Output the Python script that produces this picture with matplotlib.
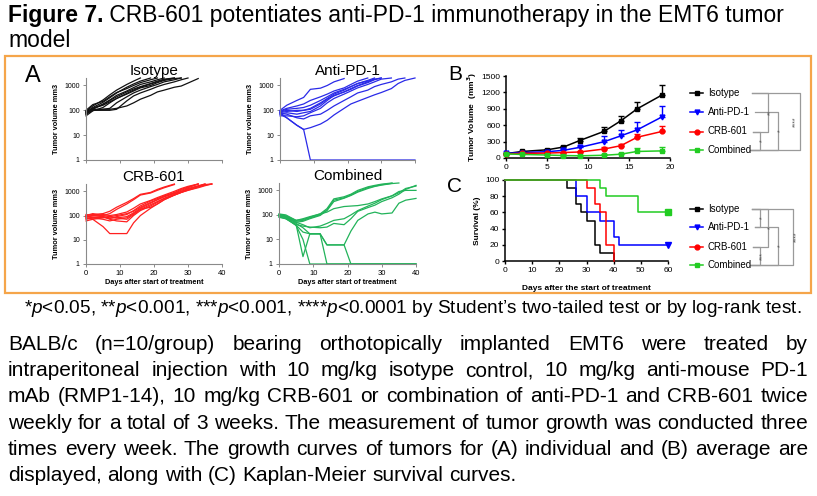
import matplotlib
matplotlib.use("Agg")
import matplotlib.pyplot as plt
from matplotlib.patches import Rectangle
from matplotlib.ticker import NullLocator

plt.rcParams['font.family'] = ['Liberation Sans', 'DejaVu Sans']
plt.rcParams['mathtext.fontset'] = 'custom'
plt.rcParams['mathtext.rm'] = 'Liberation Sans'
plt.rcParams['mathtext.it'] = 'Liberation Sans:italic'

# ---------------- data ----------------
# panel A: individual tumour volumes (mm3) on a common day grid, lists stop when the mouse leaves
a_days = [0, 2, 5, 7, 9, 12, 14, 16, 19, 21, 23, 26, 28, 30, 33, 35, 37, 40]

iso_curves = [
    [90, 150, 260, 420, 650, 1100, 1500, 2000],
    [80, 130, 210, 320, 500, 850, 1150, 1500, 2000],
    [100, 170, 230, 350, 520, 750, 1000, 1300, 1700, 2000],
    [70, 110, 180, 260, 400, 600, 820, 1100, 1400, 1700, 2000],
    [60, 95, 130, 200, 300, 480, 650, 850, 1150, 1400, 1700, 2000],
    [90, 110, 110, 120, 200, 350, 500, 650, 900, 1100, 1400, 1700, 2000],
    [80, 100, 100, 100, 110, 240, 380, 500, 700, 900, 1100, 1400, 1700, 2000],
    [70, 100, 110, 110, 120, 150, 200, 280, 400, 550, 650, 850, 950, 1250, 1900],
    [85, 120, 170, 250, 350, 550, 720, 900, 1200, 1500, 1800, 2000],
    [75, 120, 160, 220, 300, 450, 600, 800, 1000, 1300, 1600, 1900, 2000],
]
pd1_curves = [
    [80, 50, 25, 17, 1, 1, 1, 1, 1, 1, 1, 1, 1, 1, 1, 1, 1, 1],
    [70, 50, 25, 17, 20, 28, 40, 65, 120, 180, 230, 330, 420, 520, 750, 1200, 1600, 2000],
    [100, 160, 250, 330, 700, 780, 1000, 1400, 1900],
    [90, 110, 120, 130, 160, 250, 350, 500, 700, 900, 1200, 1500, 1800],
    [80, 90, 100, 100, 120, 200, 300, 450, 650, 900, 1200, 1600, 2000],
    [70, 80, 70, 80, 90, 150, 250, 400, 550, 750, 1000, 1400, 1800, 2000],
    [60, 60, 55, 60, 80, 120, 200, 300, 450, 600, 800, 1100, 1400, 1800, 2000],
    [85, 100, 90, 100, 110, 180, 280, 380, 550, 700, 950, 1300, 1700, 2000],
    [75, 70, 50, 45, 60, 70, 100, 150, 250, 350, 500, 650, 900, 1100, 1400, 1800, 2000],
    [95, 120, 150, 180, 250, 350, 450, 600, 800, 1100, 1500, 2000],
]
crb_curves = [
    [100, 110, 120, 150, 220, 350, 500, 750, 900, 1200, 1500, 2000],
    [90, 95, 100, 120, 180, 300, 450, 700, 850, 1100, 1400, 1900],
    [80, 70, 35, 18, 18, 18, 50, 100, 200, 300, 450, 700, 900, 1200, 1600, 2000],
    [70, 80, 90, 80, 80, 90, 130, 200, 320, 450, 600, 800, 1000, 1300, 1700, 2000],
    [110, 100, 90, 70, 60, 55, 100, 160, 250, 350, 500, 700, 900, 1100, 1500, 1800, 2000],
    [60, 70, 80, 90, 100, 120, 150, 220, 350, 450, 600, 850, 1100, 1400, 2000],
    [100, 120, 100, 90, 80, 70, 110, 180, 280, 380, 520, 750, 950, 1200, 1600, 1900, 2000],
    [75, 80, 85, 75, 90, 110, 160, 250, 400, 500, 650, 900, 1200, 1500, 2000],
    [90, 80, 70, 60, 70, 80, 120, 180, 220, 300, 450, 700, 900, 1100, 1400, 1700, 2000],
    [85, 100, 110, 100, 110, 140, 200, 300, 420, 550, 700, 1000, 1300, 1600, 2000],
]
comb_curves = [
    [100, 90, 60, 65, 80, 110, 180, 450, 550, 700, 1000, 1400, 1600, 1800, 2000],
    [90, 85, 55, 60, 75, 100, 160, 400, 500, 650, 900, 1300, 1500, 1700, 1950],
    [95, 80, 50, 55, 70, 95, 150, 350, 480, 620, 850, 1200, 1450, 1650, 1900, 2000],
    [110, 100, 60, 70, 85, 110, 130, 180, 220, 230, 240, 280, 350, 450, 600, 900, 1000, 1000],
    [100, 80, 40, 35, 32, 30, 32, 45, 40, 70, 140, 200, 250, 350, 500, 700, 1100, 1600],
    [80, 70, 38, 20, 17, 17, 6, 6, 6, 22, 60, 110, 130, 110, 120, 300, 400, 470],
    [95, 75, 37, 10, 1, 1, 1, 1, 1, 1, 1, 1, 1, 1, 1, 1, 1, 1],
    [85, 70, 40, 2, 17, 17, 1, 1, 1, 1, 1, 1, 1, 1, 1, 1, 1, 1],
    [105, 90, 45, 30, 17, 17, 6, 6, 6, 1, 1, 1, 1, 1, 1, 1, 1, 1],
    [100, 85, 50, 40, 30, 35, 45, 60, 70, 100, 150, 230, 300, 420, 600, 800, 1200, 1500],
]
a_titles = ["Isotype", "Anti-PD-1", "CRB-601", "Combined"]

# panel B: mean tumour volume (mm3) with upper SEM
b_days = [0, 2, 5, 7, 9, 12, 14, 16, 19]
iso_mean = [80, 120, 150, 200, 320, 490, 680, 900, 1150]
iso_err = [10, 15, 20, 25, 40, 70, 80, 130, 180]
pd1_mean = [85, 100, 115, 140, 195, 300, 405, 515, 750]
pd1_err = [10, 12, 15, 20, 30, 95, 112, 142, 195]
crb_mean = [75, 85, 90, 100, 110, 165, 225, 380, 485]
crb_err = [8, 10, 10, 15, 20, 30, 40, 50, 95]
comb_mean = [75, 65, 55, 45, 40, 50, 70, 120, 130]
comb_err = [8, 8, 8, 8, 8, 15, 30, 60, 65]

# panel C: Kaplan-Meier steps (days, % survival)
iso_t = [0, 23, 26, 28, 30, 33, 35, 40]
iso_s = [100, 90, 70, 60, 50, 20, 10, 0]
pd1_t = [0, 26, 30, 35, 40, 42, 60]
pd1_s = [100, 80, 60, 50, 30, 20, 20]
crb_t = [0, 30, 33, 35, 37, 40]
crb_s = [100, 90, 70, 60, 20, 0]
comb_t = [0, 35, 37, 49, 60]
comb_s = [100, 90, 80, 60, 60]

groups = ["Isotype", "Anti-PD-1", "CRB-601", "Combined"]
b_sig = [(0, 2, "**"), (1, 3, "*"), (2, 3, "*"), (0, 3, "****")]
c_sig = [(0, 1, "*"), (0, 2, "*"), (1, 3, "*"), (0, 3, "****"), (2, 3, "***")]

title_bold = "Figure 7."
title_rest = " CRB-601 potentiates anti-PD-1 immunotherapy in the EMT6 tumor"
title_line2 = "model"
footnote = r"*$p$<0.05, **$p$<0.001, ***$p$<0.001, ****$p$<0.0001 by Student’s two-tailed test or by log-rank test."
para = [
    "BALB/c (n=10/group) bearing orthotopically implanted EMT6 were treated by",
    "intraperitoneal injection with 10 mg/kg isotype control, 10 mg/kg anti-mouse PD-1",
    "mAb (RMP1-14), 10 mg/kg CRB-601 or combination of anti-PD-1 and CRB-601 twice",
    "weekly for a total of 3 weeks. The measurement of tumor growth was conducted three",
    "times every week. The growth curves of tumors for (A) individual and (B) average are",
    "displayed, along with (C) Kaplan-Meier survival curves.",
]

# ---------------- layout ----------------
W, H = 817, 496
fig = plt.figure(figsize=(W / 100, H / 100), dpi=100)


def rect(l, t, r, b):
    return [l / W, 1 - b / H, (r - l) / W, (b - t) / H]


a_colors = ["#111111", "#2a2ae8", "#ff2020", "#22b35a"]
bc_colors = ["#000000", "#0000ff", "#ff0000", "#22cc22"]
bc_markers = ["s", "v", "o", "s"]

a_rects = [rect(86, 78, 222, 160), rect(280, 78, 415, 160),
           rect(86, 184, 222, 264), rect(279, 183, 416, 264)]
a_data = [iso_curves, pd1_curves, crb_curves, comb_curves]

for k in range(4):
    ax = fig.add_axes(a_rects[k])
    for vals in a_data[k]:
        ax.plot(a_days[:len(vals)], vals, color=a_colors[k], lw=0.9, clip_on=False)
    ax.set_yscale("log")
    ax.set_ylim(1, 2000)
    ax.set_xlim(0, 40)
    ax.set_yticks([1, 10, 100, 1000])
    ax.set_yticklabels(["1", "10", "100", "1000"])
    ax.yaxis.set_minor_locator(NullLocator())
    ax.set_xticks([0, 10, 20, 30, 40])
    for s in ["top", "right"]:
        ax.spines[s].set_visible(False)
    for s in ["left", "bottom"]:
        ax.spines[s].set_color("#8a8a8a")
        ax.spines[s].set_linewidth(0.8)
    ax.tick_params(colors="#8a8a8a", labelcolor="black", labelsize=5, length=2.5, width=0.7, pad=2)
    ax.set_ylabel("Tumor volume mm3", fontsize=5.3, fontweight="bold", labelpad=3)
    if k >= 2:
        ax.set_xlabel("Days after start of treatment", fontsize=5.3, fontweight="bold", labelpad=1)
        ax.tick_params(axis="x", labelsize=5.5)
    else:
        ax.set_xticklabels([])
    ax.set_title(a_titles[k], fontsize=11, pad=2)

# panel B
axb = fig.add_axes(rect(506, 76, 670, 158))
b_means = [iso_mean, pd1_mean, crb_mean, comb_mean]
b_errs = [iso_err, pd1_err, crb_err, comb_err]
for k in range(4):
    axb.errorbar(b_days, b_means[k], yerr=[[0] * len(b_errs[k]), b_errs[k]],
                 color=bc_colors[k], marker=bc_markers[k], ms=3.5, lw=1.1,
                 capsize=2, elinewidth=1, capthick=1, clip_on=False, zorder=3 + k)
axb.set_xlim(0, 20)
axb.set_ylim(0, 1500)
axb.set_xticks([0, 5, 10, 15, 20])
axb.set_yticks([0, 300, 600, 900, 1200, 1500])
for s in ["top", "right"]:
    axb.spines[s].set_visible(False)
for s in ["left", "bottom"]:
    axb.spines[s].set_linewidth(1.1)
axb.tick_params(labelsize=6, length=2.5, width=1, pad=1.5)
axb.set_ylabel("Tumor Volume  (mm$^\\mathbf{3}$)", fontsize=6, fontweight="bold", labelpad=2)

# panel C
axc = fig.add_axes(rect(505, 180, 668, 261))
c_t = [iso_t, pd1_t, crb_t, comb_t]
c_s = [iso_s, pd1_s, crb_s, comb_s]
for k in range(4):
    axc.step(c_t[k], c_s[k], where="post", color=bc_colors[k], lw=1.1, clip_on=False, zorder=3 + k)
axc.plot(pd1_t[-1], pd1_s[-1], marker="v", color=bc_colors[1], ms=4.5, clip_on=False, zorder=9)
axc.plot(comb_t[-1], comb_s[-1], marker="s", color=bc_colors[3], ms=4.5, clip_on=False, zorder=9)
axc.set_xlim(0, 60)
axc.set_ylim(0, 100)
axc.set_xticks([0, 10, 20, 30, 40, 50, 60])
axc.set_yticks([0, 20, 40, 60, 80, 100])
for s in ["top", "right"]:
    axc.spines[s].set_visible(False)
for s in ["left", "bottom"]:
    axc.spines[s].set_linewidth(1.1)
axc.tick_params(labelsize=6, length=2.5, width=1, pad=1.5)
axc.set_ylabel("Survival (%)", fontsize=6, fontweight="bold", labelpad=3)
axc.set_xlabel("Days after the start of treatment", fontsize=6, fontweight="bold", labelpad=8)

# ---------------- overlay: box, letters, legends, brackets, text ----------------
ov = fig.add_axes([0, 0, 1, 1], zorder=-1)
ov.set_xlim(0, W)
ov.set_ylim(H, 0)
ov.axis("off")

ov.add_patch(Rectangle((5.5, 55.5), 806, 237, fill=False, edgecolor="#f5a54a", lw=1.6))
ov.text(33, 76, "A", fontsize=17, ha="center", va="center")
ov.text(455, 75, "B", fontsize=15, ha="center", va="center")
ov.text(455, 186, "C", fontsize=15, ha="center", va="center")


def legend_block(rows_y, x_starts, sig, vlines, lab_dx):
    for k in range(4):
        y = rows_y[k]
        ov.plot([690, 703], [y, y], color=bc_colors[k], lw=1.1)
        ov.plot(697, y, marker=bc_markers[k], color=bc_colors[k], ms=3.5)
        ov.text(708, y, groups[k], fontsize=7, va="center", ha="left")
    for (i, j, lab), xv, dx in zip(sig, vlines, lab_dx):
        yi, yj = rows_y[i], rows_y[j]
        ov.plot([x_starts[i], xv, xv, x_starts[j]], [yi, yi, yj, yj], color="#9a9a9a", lw=0.9)
        ov.text(xv + dx, (yi + yj) / 2, lab, fontsize=5, rotation=90, color="#555555",
                ha="center", va="center")


legend_block([93, 112, 131.5, 150], [752, 755, 753, 750], b_sig,
             [768, 778, 760, 800], [3, 3, 3, -4.5])
legend_block([208.5, 227, 246.5, 265], [752, 755, 753, 750], c_sig,
             [760, 768, 778, 793, 760], [3, 3, 3, 3.5, 3])

renderer = fig.canvas.get_renderer()

# title
t1 = ov.text(8, 22, title_bold, fontsize=16.5, fontweight="bold", va="baseline")
w1 = t1.get_window_extent(renderer).width
ov.text(8 + w1, 22, title_rest, fontsize=16.5, va="baseline")
ov.text(8, 47, title_line2, fontsize=16.5, va="baseline")

# footnote
ov.text(413, 313, footnote, fontsize=13.7, ha="center", va="baseline")

# justified paragraph
left, right = 8, 808
fs = 15
space = 0.278 * fs * 100 / 72
for n, line in enumerate(para):
    y = 350 + n * 26.2
    words = line.split(" ")
    objs = [ov.text(0, y, w, fontsize=fs, va="baseline") for w in words]
    widths = [o.get_window_extent(renderer).width for o in objs]
    if n < len(para) - 1:
        gap = (right - left - sum(widths)) / (len(words) - 1)
    else:
        gap = space
    x = left
    for o, w in zip(objs, widths):
        o.set_x(x)
        x += w + gap

fig.savefig("out.png", dpi=100)
